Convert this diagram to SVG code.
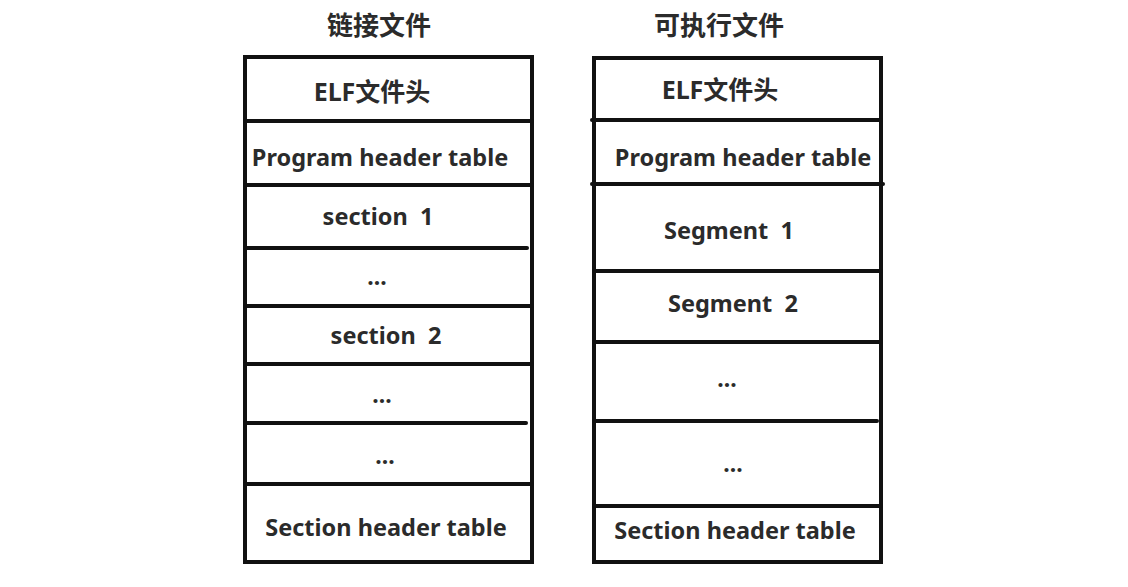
<svg xmlns="http://www.w3.org/2000/svg" width="1128" height="587" viewBox="0 0 1128 587">
  <style>
    .frame { fill: #ffffff; stroke: #111111; stroke-width: 4; }
    .rule { stroke: #111111; stroke-width: 4; stroke-linecap: round; fill: none; }
    .title { font-family: "Noto Sans CJK SC", "Noto Sans", sans-serif; font-weight: bold; font-size: 26px; fill: #2b2b2b; text-anchor: middle; }
    .head { font-family: "Noto Sans", "Noto Sans CJK SC", sans-serif; font-weight: bold; font-size: 25px; fill: #2b2b2b; text-anchor: middle; }
    .cell { font-family: "Noto Sans", "Noto Sans CJK SC", sans-serif; font-weight: bold; font-size: 23.5px; fill: #2b2b2b; text-anchor: middle; white-space: pre; }
    .dots { font-family: "Noto Sans", sans-serif; font-weight: bold; font-size: 23px; fill: #2b2b2b; text-anchor: middle; }
  </style>
  <rect width="1128" height="587" fill="#ffffff"/>

  <!-- left column: linkable object file -->
  <g id="link-file">
    <text class="title" x="379" y="35">链接文件</text>
    <rect class="frame" x="245" y="57" width="287" height="505"/>
    <text class="head" x="372" y="101">ELF文件头</text>
    <text class="cell" x="380" y="166">Program header table</text>
    <text class="cell" x="378" y="225" xml:space="preserve">section  1</text>
    <text class="dots" x="377" y="285">...</text>
    <text class="cell" x="386" y="344" xml:space="preserve">section  2</text>
    <text class="dots" x="382" y="403">...</text>
    <text class="dots" x="385" y="464">...</text>
    <text class="cell" x="386" y="536">Section header table</text>
  </g>

  <!-- right column: executable file -->
  <g id="exec-file">
    <text class="title" x="719" y="35">可执行文件</text>
    <rect class="frame" x="594" y="58" width="287" height="504"/>
    <text class="head" x="720" y="99">ELF文件头</text>
    <text class="cell" x="743" y="166">Program header table</text>
    <text class="cell" x="729" y="239" xml:space="preserve">Segment  1</text>
    <text class="cell" x="733" y="312" xml:space="preserve">Segment  2</text>
    <text class="dots" x="727" y="387">...</text>
    <text class="dots" x="733" y="472">...</text>
    <text class="cell" x="735" y="539">Section header table</text>
  </g>

  <!-- row dividers -->
  <g id="dividers">
    <line class="rule" x1="245" y1="121" x2="532" y2="121"/>
    <line class="rule" x1="245" y1="185" x2="532" y2="185"/>
    <line class="rule" x1="245" y1="248" x2="527" y2="248"/>
    <line class="rule" x1="245" y1="306" x2="532" y2="306"/>
    <line class="rule" x1="245" y1="364" x2="532" y2="364"/>
    <line class="rule" x1="245" y1="423" x2="526" y2="423"/>
    <line class="rule" x1="245" y1="484" x2="532" y2="484"/>

    <line class="rule" x1="592" y1="120" x2="881" y2="120"/>
    <line class="rule" x1="592" y1="184" x2="883" y2="184"/>
    <line class="rule" x1="594" y1="271" x2="881" y2="271"/>
    <line class="rule" x1="594" y1="342" x2="881" y2="342"/>
    <line class="rule" x1="594" y1="421" x2="877" y2="421"/>
    <line class="rule" x1="594" y1="506" x2="881" y2="506"/>
  </g>
</svg>
